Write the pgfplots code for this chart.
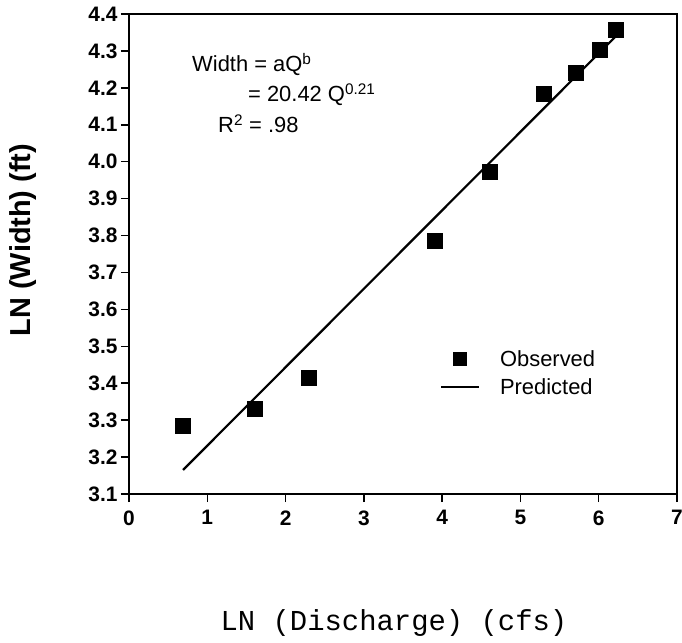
\documentclass[border=0pt]{standalone}
\usepackage{fontspec}
\setmainfont{Liberation Sans}
\newfontfamily\monofont{Liberation Mono}
\usepackage{pgfplots}
\pgfplotsset{compat=1.18}
\begin{document}
\begin{tikzpicture}
\begin{axis}[
  at={(0,0)}, anchor=south west,
  width=548bp, height=480bp, scale only axis,
  xmin=0, xmax=7, ymin=3.1, ymax=4.4,
  xtick={0,1,2,3,4,5,6,7},
  ytick={3.1,3.2,3.3,3.4,3.5,3.6,3.7,3.8,3.9,4.0,4.1,4.2,4.3,4.4},
  yticklabel style={/pgf/number format/fixed, /pgf/number format/fixed zerofill, /pgf/number format/precision=1},
  xticklabel style={yshift=-5bp},
  /pgf/number format/assume math mode=true,
  tick pos=left, tick align=outside,
  major tick length=8bp,
  tick style={line width=1.5pt, black},
  axis line style={line width=2pt},
  ticklabel style={font=\bfseries\fontsize{21}{21}\selectfont},
  ylabel={LN (Width) (ft)},
  ylabel style={at={(axis description cs:-0.1934,0.529)}, anchor=center, font=\bfseries\fontsize{29}{29}\selectfont},
  xlabel={LN (Discharge) (cfs)},
  xlabel style={at={(axis description cs:0.4836,-0.26875)}, anchor=center, font=\monofont\fontsize{29}{29}\selectfont},
  legend style={draw=none, fill=none, inner sep=0pt, at={(axis cs:3.97,3.495)}, anchor=north west,
    font=\fontsize{22}{22}\selectfont, row sep=7bp},
  legend cell align=left,
]
\addplot[only marks, mark=square*, mark size=7.5bp, black,
  legend image code/.code={\path[draw=none] (0bp,0bp) -- (54bp,0bp); \fill[black] (12.5bp,-6.5bp) rectangle (25.5bp,6.5bp);}]
  coordinates {(0.69,3.285) (1.61,3.331) (2.30,3.415) (3.91,3.787) (4.61,3.974) (5.30,4.183) (5.71,4.241) (6.01,4.302) (6.22,4.358)};
\addlegendentry{Observed}
\addplot[black, line width=2.2pt,
  legend image code/.code={\path[draw=none] (0bp,0bp) -- (57bp,0bp); \draw[black, line width=2.2pt] (0bp,0bp) -- (38bp,0bp);}]
  coordinates {(0.69,3.165) (6.22,4.340)};
\addlegendentry{Predicted}
\node[anchor=base west, inner sep=0pt, font=\fontsize{22}{22}\selectfont] at (axis cs:0.805,4.243) {Width = aQ\textsuperscript{b}};
\node[anchor=base west, inner sep=0pt, font=\fontsize{22}{22}\selectfont] at (axis cs:1.52,4.162) {= 20.42 Q\textsuperscript{0.21}};
\node[anchor=base west, inner sep=0pt, font=\fontsize{22}{22}\selectfont] at (axis cs:1.137,4.078) {R\textsuperscript{2} = .98};
\end{axis}
\pgfresetboundingbox
\path (-129bp,-149bp) rectangle (553bp,494bp);
\end{tikzpicture}
\end{document}
